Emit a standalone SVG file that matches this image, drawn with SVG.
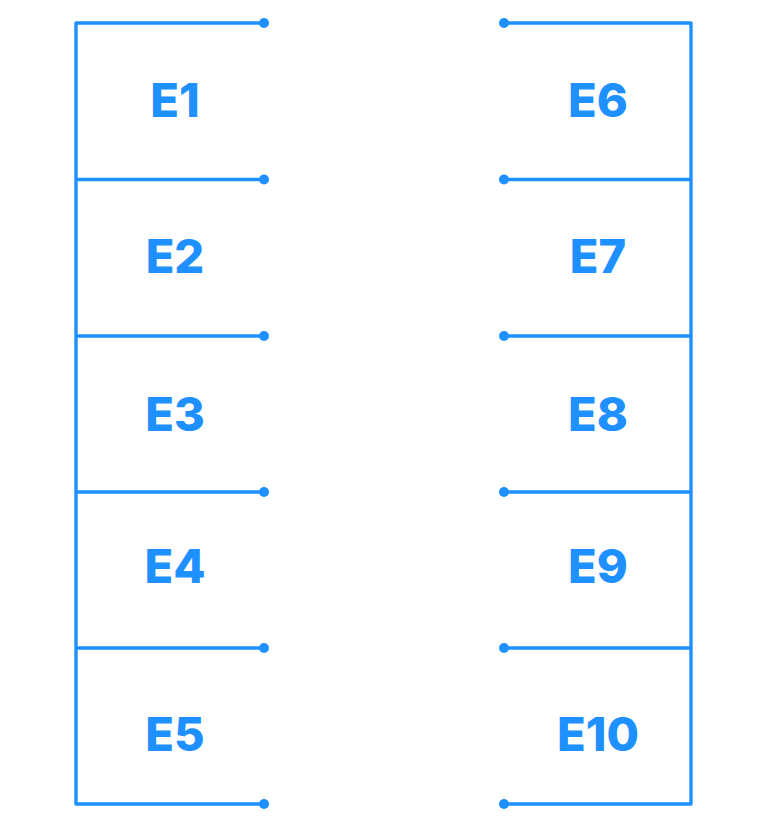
<svg xmlns="http://www.w3.org/2000/svg" width="775" height="824" viewBox="0 0 775 824">
<style>
.ln{fill:none;stroke:#1E90FF;stroke-width:3.4;stroke-linecap:round;stroke-linejoin:round}
.dot{fill:#1E90FF}
.lb{font-family:Inter,"Noto Sans",sans-serif;font-weight:800;font-size:47px;fill:#1E90FF;text-anchor:middle}
</style>
<rect width="775" height="824" fill="#fff"/>
<g id="connectors">
<path class="ln" d="M264,23 H76 V804 H264 M76,179.5 H264 M76,336 H264 M76,492 H264 M76,648 H264"/>
<path class="ln" d="M504,23 H691 V804 H504 M691,179.5 H504 M691,336 H504 M691,492 H504 M691,648 H504"/>
<g class="dot">
<circle cx="264" cy="23" r="5"/><circle cx="264" cy="179.5" r="5"/><circle cx="264" cy="336" r="5"/><circle cx="264" cy="492" r="5"/><circle cx="264" cy="648" r="5"/><circle cx="264" cy="804" r="5"/>
<circle cx="504" cy="23" r="5"/><circle cx="504" cy="179.5" r="5"/><circle cx="504" cy="336" r="5"/><circle cx="504" cy="492" r="5"/><circle cx="504" cy="648" r="5"/><circle cx="504" cy="804" r="5"/>
</g>
</g>
<g id="E1"><text class="lb" x="175" y="117">E1</text></g>
<g id="E2"><text class="lb" x="175" y="273">E2</text></g>
<g id="E3"><text class="lb" x="175" y="431">E3</text></g>
<g id="E4"><text class="lb" x="175" y="583">E4</text></g>
<g id="E5"><text class="lb" x="175" y="751">E5</text></g>
<g id="E6"><text class="lb" x="598" y="117">E6</text></g>
<g id="E7"><text class="lb" x="598" y="273">E7</text></g>
<g id="E8"><text class="lb" x="598" y="431">E8</text></g>
<g id="E9"><text class="lb" x="598" y="583">E9</text></g>
<g id="E10"><text class="lb" x="598" y="751">E10</text></g>
</svg>
